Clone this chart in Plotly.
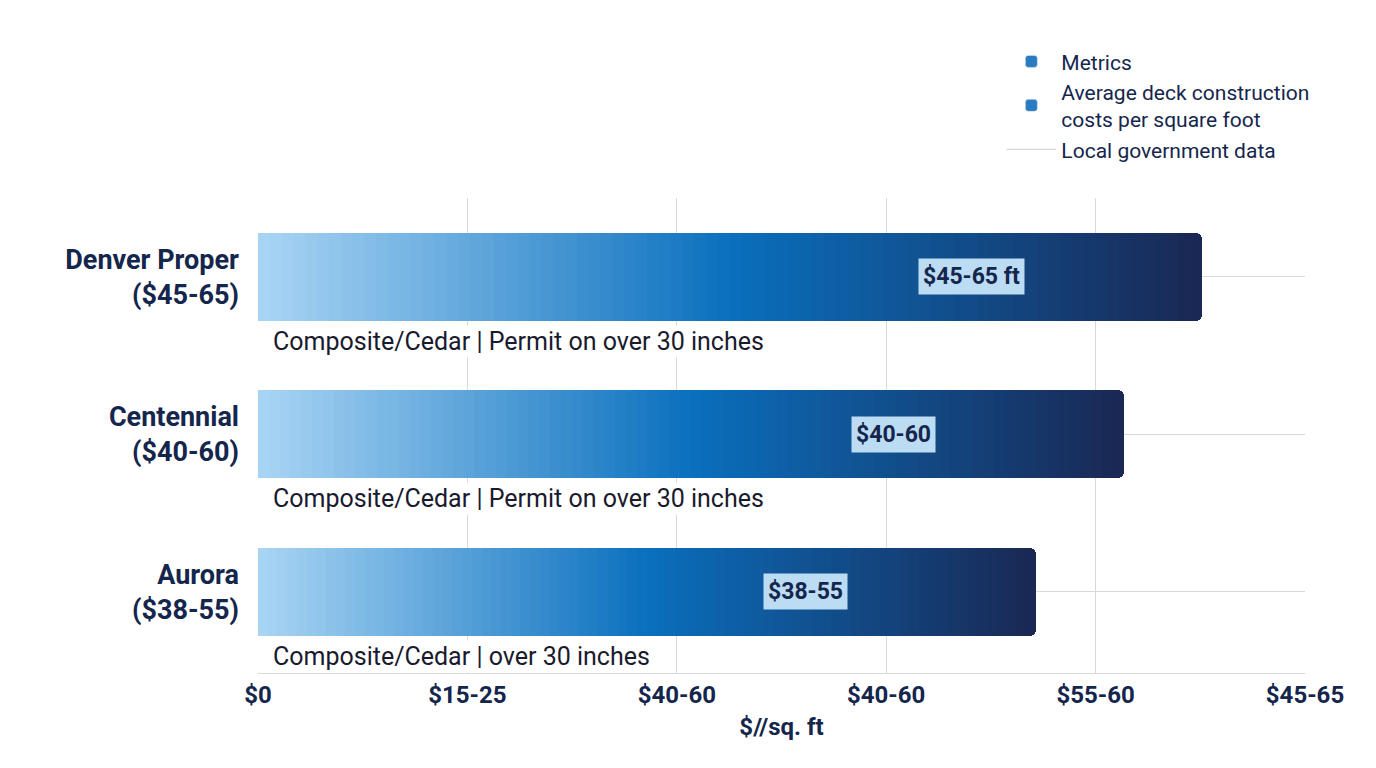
import plotly.graph_objects as go

categories = ["Denver Proper<br>($45-65)", "Centennial<br>($40-60)", "Aurora<br>($38-55)"]
bar_values = [67.6, 62.0, 55.7]
value_labels = ["$45-65 ft", "$40-60", "$38-55"]
notes = ["Composite/Cedar | Permit on over 30 inches",
         "Composite/Cedar | Permit on over 30 inches",
         "Composite/Cedar | over 30 inches"]
tick_vals = [0, 15, 30, 45, 60, 75]
tick_text = ["$0", "$15-25", "$40-60", "$40-60", "$55-60", "$45-65"]

stops = [(0.0, (170, 214, 245)), (0.5, (10, 112, 190)), (1.0, (26, 40, 84))]
def grad(t):
    for (a, ca), (b, cb) in zip(stops[:-1], stops[1:]):
        if t <= b:
            f = (t - a) / (b - a)
            c = [int(ca[i] + (cb[i] - ca[i]) * f) for i in range(3)]
            return f"rgb({c[0]},{c[1]},{c[2]})"
    return "rgb(26,40,84)"

N = 80
fig = go.Figure()
for k in range(N):
    t = (k + 0.5) / N
    fig.add_trace(go.Bar(
        y=categories, x=[v / N for v in bar_values], orientation="h",
        marker=dict(color=grad(t), line=dict(width=0)),
        width=0.56, showlegend=False, hoverinfo="skip"))

fig.add_trace(go.Bar(y=[None], x=[None], orientation="h", name="Metrics",
                     marker_color="#2a7bc0"))
fig.add_trace(go.Bar(y=[None], x=[None], orientation="h",
                     name="Average deck construction<br>costs per square foot",
                     marker_color="#2a7bc0"))
fig.add_trace(go.Scatter(x=[None], y=[None], mode="lines", name="Local government data",
                         line=dict(color="#cccccc", width=1)))

for i, (c, v, lab, note) in enumerate(zip(categories, bar_values, value_labels, notes)):
    fig.add_annotation(x=v - 16.5, y=i, yref="y", text=f"<b>{lab}</b>", showarrow=False,
                       font=dict(size=23, color="#15264d"), bgcolor="#bcdcf3",
                       borderpad=4)
    fig.add_annotation(x=0.9, y=i + 0.41, text=note, showarrow=False, xanchor="left",
                       font=dict(size=25, color="#1a1a2e"), bgcolor="white")

fig.update_layout(
    width=1376, height=768, barmode="stack", bargap=0, barcornerradius=6,
    plot_bgcolor="white", paper_bgcolor="white",
    font=dict(family="Roboto", color="#15264d"),
    margin=dict(l=250, r=79, t=190, b=103, autoexpand=False),
    xaxis=dict(range=[0, 75], tickvals=tick_vals, ticktext=[f"<b>{t}</b>" for t in tick_text],
               tickfont=dict(size=24, color="#15264d"), showgrid=True, gridcolor="#d9d9d9",
               zeroline=False, showline=True, linecolor="#d9d9d9", automargin=False,
               title=dict(text="<b>$//sq. ft</b>", font=dict(size=24, color="#15264d"), standoff=10)),
    yaxis=dict(categoryorder="array", categoryarray=categories, autorange="reversed",
               ticklabelstandoff=18, automargin=False,
               tickfont=dict(size=27, color="#15264d"), showgrid=True, gridcolor="#d9d9d9",
               ticktext=[f"<b>{c}</b>" for c in categories], tickvals=categories),
    legend=dict(x=0.71, y=1.33, xanchor="left", yanchor="top", font=dict(size=21, color="#15264d"),
                bgcolor="rgba(0,0,0,0)", traceorder="normal", itemwidth=50),
)
fig.write_html("out.html")
